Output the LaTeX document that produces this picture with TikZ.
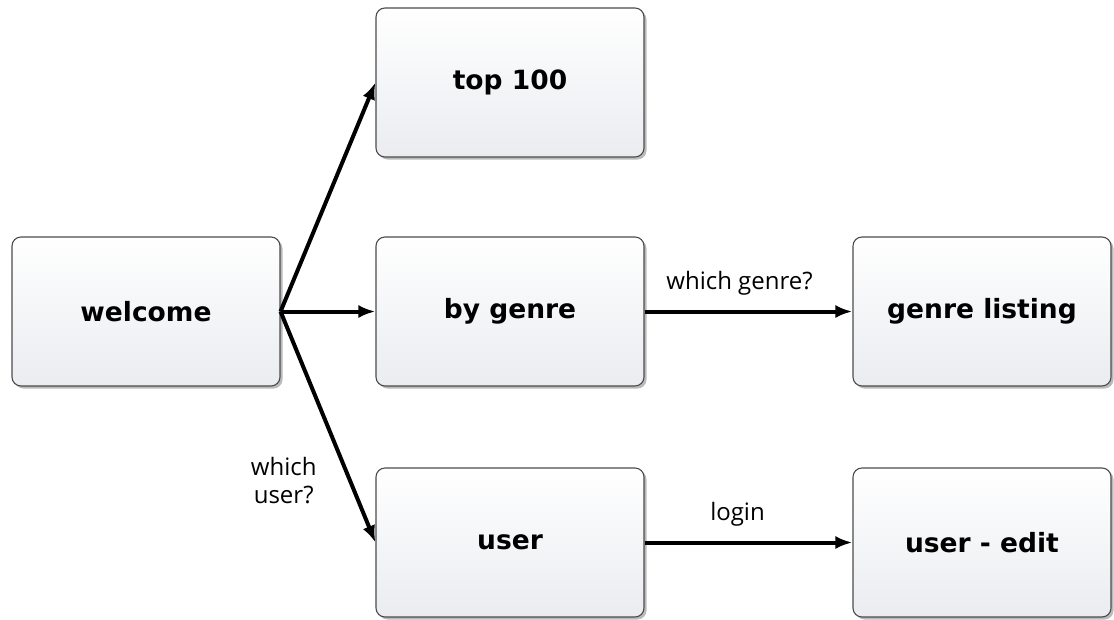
\documentclass[tikz,border=0pt]{standalone}
\usepackage{fontspec}
\setmainfont{Open Sans}
\newfontfamily\pagefont{DejaVu Sans}
\usetikzlibrary{arrows.meta,shadows}

\tikzset{
	page/.style={draw=black!70, line width=1.1pt, rounded corners=9pt,
		top color=white, bottom color={rgb,255:red,234;green,236;blue,240},
		drop shadow={shadow xshift=2.5pt, shadow yshift=-2.5pt, opacity=0.45, fill=black!60},
		minimum width=268pt, minimum height=149pt, inner sep=0pt,
		font=\pagefont\bfseries\fontsize{26.5}{30}\selectfont},
	link/.style={line width=4pt, -{Latex[length=17pt,width=13pt]}},
	linktext/.style={font=\fontsize{24}{28}\selectfont, align=center}
}

\begin{document}
\begin{tikzpicture}[x=1pt,y=-1pt]
	\useasboundingbox (0,0) rectangle (1114,619);
	% pages
	\node[page] (welcome) at (146,311.5) {welcome};
	\node[page] (top) at (510,82.5) {top 100};
	\node[page] (genre) at (510,311.5) {by genre};
	\node[page] (user) at (510,542.5) {user};
	\node[page, minimum width=258pt] (listing) at (982,311.5) {genre listing};
	\node[page, minimum width=258pt] (edit) at (982,542.5) {user - edit};
	% links
	\draw[link] (welcome.east) -- (top.west);
	\draw[link] (welcome.east) -- (genre.west);
	\draw[link] (welcome.east) -- (user.west) node[linktext, pos=0.73, left=28pt] {which\\user?};
	\draw[link] (genre.east) -- (listing.west) node[linktext, midway, above=11pt, xshift=-9pt] {which genre?};
	\draw[link] (user.east) -- (edit.west) node[linktext, midway, above=11pt, xshift=-11pt] {login};
%	\draw[link] (top.east) -- (listing.north);
\end{tikzpicture}
\end{document}
